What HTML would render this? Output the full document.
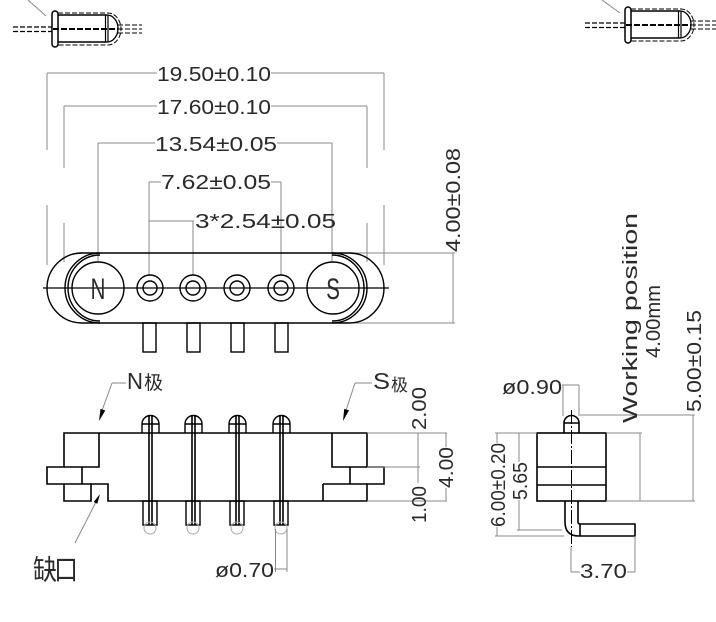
<!DOCTYPE html>
<html><head><meta charset="utf-8"><style>
html,body{margin:0;padding:0;background:#fff;}
svg{display:block;}
text{font-family:"Liberation Sans","Noto Sans CJK SC",sans-serif;fill:#2a2a2a;}
</style></head><body>
<svg width="716" height="622" viewBox="0 0 716 622" xmlns="http://www.w3.org/2000/svg">
<!-- top icons -->
<g>
<line x1="28" y1="0" x2="46" y2="16" stroke="#888" stroke-width="1"/>
<rect x="52" y="11" width="6" height="36" rx="3" fill="none" stroke="#000" stroke-width="1.5"/>
<path d="M58,15 H107 M58,42 H107" stroke="#000" stroke-width="1.5" fill="none"/>
<path d="M105.5,15 V42 M108,15 V42" stroke="#000" stroke-width="1.2" fill="none"/>
<path d="M107,15 A11,13.5 0 0 1 107,42" fill="none" stroke="#000" stroke-width="1.3"/>
<path d="M58,13 H108 A13,16 0 0 1 108,45 H58" fill="none" stroke="#000" stroke-dasharray="5,2" stroke-width="1"/>
<line x1="53" y1="29" x2="118" y2="29" stroke="#000" stroke-width="2" stroke-dasharray="6,2"/>
<path d="M13,27 H52 M13,31.5 H52" stroke="#000" stroke-width="1.3" stroke-dasharray="5,2" fill="none"/>
<path d="M118,25 H142 M118,29 H142 M118,33 H142" stroke="#000" stroke-width="1" stroke-dasharray="5,2" fill="none"/>
</g>
<g transform="translate(573,-4)">
<line x1="29" y1="4" x2="47" y2="17" stroke="#888" stroke-width="1"/>
<rect x="52" y="11" width="6" height="36" rx="3" fill="none" stroke="#000" stroke-width="1.5"/>
<path d="M58,15 H107 M58,42 H107" stroke="#000" stroke-width="1.5" fill="none"/>
<path d="M105.5,15 V42 M108,15 V42" stroke="#000" stroke-width="1.2" fill="none"/>
<path d="M107,15 A11,13.5 0 0 1 107,42" fill="none" stroke="#000" stroke-width="1.3"/>
<path d="M58,13 H108 A13,16 0 0 1 108,45 H58" fill="none" stroke="#000" stroke-dasharray="5,2" stroke-width="1"/>
<line x1="53" y1="29" x2="118" y2="29" stroke="#000" stroke-width="2" stroke-dasharray="6,2"/>
<path d="M12,27 H52 M12,31.5 H52" stroke="#000" stroke-width="1.3" stroke-dasharray="5,2" fill="none"/>
<path d="M118,25 H143 M118,29 H143 M118,33 H143" stroke="#000" stroke-width="1" stroke-dasharray="5,2" fill="none"/>
</g>

<!-- top dimension lines -->
<g stroke="#888" stroke-width="1" fill="none">
<path d="M47,73 H157 M271,73 H384 M47,73 V150 M384,73 V150 M47,205 V265 M384,205 V265"/>
<path d="M64,106 H157 M271,106 H367 M64,106 V168 M367,106 V168 M64,223 V262 M367,223 V262"/>
<path d="M98,143 H155 M277,143 H332 M98,143 V262 M332,143 V262"/>
<path d="M149,182 H161 M271,182 H281 M149,182 V275 M281,182 V275"/>
<path d="M149,221 H194 M193,221 V275"/>
<path d="M350,253 H455 M350,323 H455 M453,253 V323"/>
</g>
<text x="157" y="81" font-size="20" textLength="114" lengthAdjust="spacingAndGlyphs">19.50±0.10</text>
<text x="157" y="114" font-size="20" textLength="114" lengthAdjust="spacingAndGlyphs">17.60±0.10</text>
<text x="155" y="151" font-size="20" textLength="122" lengthAdjust="spacingAndGlyphs">13.54±0.05</text>
<text x="161" y="189" font-size="20" textLength="110" lengthAdjust="spacingAndGlyphs">7.62±0.05</text>
<text x="195" y="228" font-size="20" textLength="141" lengthAdjust="spacingAndGlyphs">3*2.54±0.05</text>
<text transform="translate(460,252) rotate(-90)" font-size="20" textLength="104" lengthAdjust="spacingAndGlyphs">4.00±0.08</text>

<!-- front view -->
<g stroke="#000" stroke-width="1.4" fill="none">
<path d="M82,253 H349 A35,35 0 0 1 349,323 H82 A35,35 0 0 1 82,253 Z"/>
<path d="M100,253 A35,35 0 0 0 100,323 M332,253 A35,35 0 0 1 332,323"/>
<path d="M100,255 A32,33 0 0 0 100,321 M332,255 A32,33 0 0 1 332,321"/>
<circle cx="98" cy="288" r="26"/><circle cx="333" cy="288" r="26"/>
<circle cx="150" cy="288" r="13"/><circle cx="150" cy="288" r="7"/>
<circle cx="193" cy="288" r="13"/><circle cx="193" cy="288" r="7"/>
<circle cx="237" cy="288" r="13"/><circle cx="237" cy="288" r="7"/>
<circle cx="281" cy="288" r="13"/><circle cx="281" cy="288" r="7"/>
<rect x="143" y="323" width="13" height="29"/>
<rect x="187" y="323" width="13" height="29"/>
<rect x="231" y="323" width="13" height="29"/>
<rect x="275" y="323" width="13" height="29"/>
</g>
<line x1="43" y1="288" x2="389" y2="288" stroke="#000" stroke-width="1.2"/>
<text transform="translate(98,299) scale(0.68,1)" text-anchor="middle" font-size="30">N</text>
<text transform="translate(333,299) scale(0.68,1)" text-anchor="middle" font-size="30">S</text>

<!-- bottom view -->
<g stroke="#000" stroke-width="1.6" fill="none">
<path d="M64,433 H367 V467 H384 V484 H367 V501 H108 V484 H91 V501 H64 V484 H47 V467 H64 Z"/>
<path d="M99,433 V467 H64 M82,467 V484 M64,484 H91"/>
<path d="M332,433 V467 H367 M350,467 V484 M323,484 V501 M323,484 H367"/>
</g>
<g stroke="#000" fill="none">
<g stroke-width="1.4">
<path d="M142,433 V424 A8.5,8.5 0 0 1 159,424 V433 M142,424 H159"/>
<path d="M185,433 V424 A8.5,8.5 0 0 1 202,424 V433 M185,424 H202"/>
<path d="M229,433 V424 A8.5,8.5 0 0 1 246,424 V433 M229,424 H246"/>
<path d="M273,433 V424 A8.5,8.5 0 0 1 290,424 V433 M273,424 H290"/>
<rect x="143" y="501" width="14" height="24"/>
<rect x="186" y="501" width="14" height="24"/>
<rect x="230" y="501" width="14" height="24"/>
<rect x="274" y="501" width="14" height="24"/>
</g>
<g stroke-width="1.6">
<path d="M149,415 V525 M152,415 V525"/>
<path d="M192,415 V525 M195,415 V525"/>
<path d="M236,415 V525 M239,415 V525"/>
<path d="M280,415 V525 M283,415 V525"/>
</g>
</g>
<g stroke="#aaa" stroke-width="1" fill="none">
<circle cx="150" cy="528" r="6"/><circle cx="193" cy="528" r="6"/>
<circle cx="237" cy="528" r="6"/><circle cx="281" cy="528" r="6"/>
</g>
<!-- bottom view dims -->
<g stroke="#888" stroke-width="1" fill="none">
<path d="M367,433 H447 M367,467 H420 M367,501 H447 M418,433 V483 M446,433 V447 M446,488 V501"/>
<path d="M275.5,529 V572 M287,529 V572 M274,569 H287"/>
<path d="M112,383 H126 M112,383 L101.5,412 M355,383 H372 M355,383 L345.5,412 M75,543 L97,500"/>
</g>
<polygon points="99,421 105.3,410.5 100.5,408.9" fill="#000"/>
<polygon points="343,421 349,410.4 344.2,408.9" fill="#000"/>
<polygon points="100,494 97.3,503.8 93.7,502" fill="#000"/>
<text x="127" y="389" font-size="23" textLength="16" lengthAdjust="spacingAndGlyphs">N</text>
<text x="144" y="389" font-size="19">极</text>
<text x="373" y="389" font-size="23" textLength="17" lengthAdjust="spacingAndGlyphs">S</text>
<text x="391" y="391" font-size="17">极</text>
<text transform="translate(426,430) rotate(-90)" font-size="20" textLength="43" lengthAdjust="spacingAndGlyphs">2.00</text>
<text transform="translate(453,488) rotate(-90)" font-size="20" textLength="41" lengthAdjust="spacingAndGlyphs">4.00</text>
<text transform="translate(426,523) rotate(-90)" font-size="20" textLength="37" lengthAdjust="spacingAndGlyphs">1.00</text>
<text x="33" y="577" font-size="24" textLength="45" lengthAdjust="spacing" transform="translate(0,-90) scale(1,1.16)">缺口</text>
<text x="215" y="577" font-size="20" textLength="59" lengthAdjust="spacingAndGlyphs">ø0.70</text>

<!-- side view -->
<g stroke="#000" stroke-width="1.6" fill="none">
<rect x="537" y="433" width="69" height="68"/>
<path d="M537,467 H606 M537,485 H606"/>
<path d="M564,433 V423 A7.5,7.5 0 0 1 579,423 V433 M564,423 H579"/>
<path d="M565,501 V522 Q565,536 579,536 H635 V524 H580 Q578,524 578,522 V501 M580,524 V536"/>
</g>
<line x1="571.5" y1="410" x2="571.5" y2="547" stroke="#000" stroke-width="1" stroke-dasharray="14,2,2,2"/>
<g stroke="#888" stroke-width="1" fill="none">
<path d="M495,433 H537 M495,536 H564 M497,433 V443 M497,527 V536"/>
<path d="M517,530 H562 M519,433 V462 M519,500 V530"/>
<path d="M635,536 V572 M571,572 H580 M627,572 H635 M571,547 V572"/>
<path d="M606,433 H642 M640,433 V501 M606,501 H695"/>
<path d="M580,415 H695 M693,415 V501"/>
<path d="M562,385 H579 M563,385 V416 M579,385 V416"/>
</g>
<text x="502" y="394" font-size="20" textLength="60" lengthAdjust="spacingAndGlyphs">ø0.90</text>
<text transform="translate(505,527) rotate(-90)" font-size="20" textLength="84" lengthAdjust="spacingAndGlyphs">6.00±0.20</text>
<text transform="translate(527,500) rotate(-90)" font-size="20" textLength="38" lengthAdjust="spacingAndGlyphs">5.65</text>
<text x="580" y="578" font-size="20" textLength="47" lengthAdjust="spacingAndGlyphs">3.70</text>
<text transform="translate(637,423) rotate(-90)" font-size="20" textLength="210" lengthAdjust="spacingAndGlyphs">Working position</text>
<text transform="translate(660,358) rotate(-90)" font-size="20" textLength="73" lengthAdjust="spacingAndGlyphs">4.00mm</text>
<text transform="translate(701,412) rotate(-90)" font-size="20" textLength="102" lengthAdjust="spacingAndGlyphs">5.00±0.15</text>
</svg>
</body></html>
